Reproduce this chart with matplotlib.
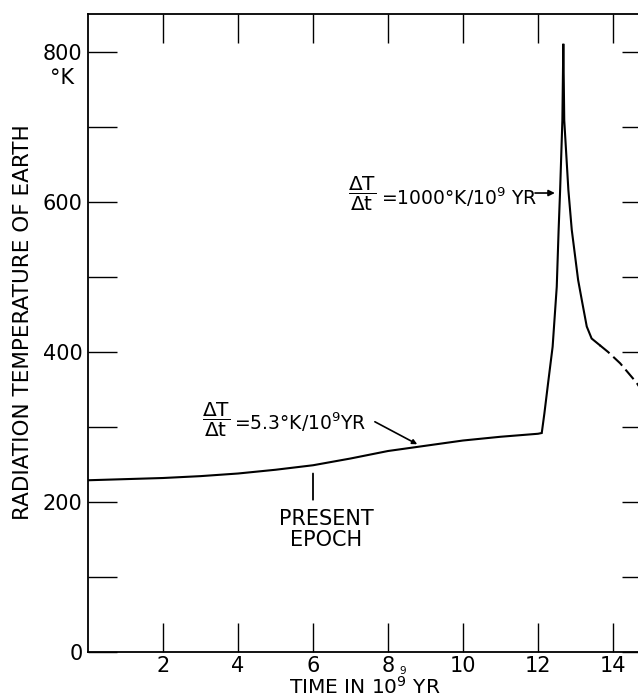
import matplotlib
matplotlib.use("Agg")
import matplotlib.pyplot as plt
from matplotlib.ticker import MultipleLocator, FixedLocator

plt.rcParams['font.family'] = ['DejaVu Sans']
plt.rcParams['mathtext.fontset'] = 'dejavusans'
plt.rcParams['mathtext.default'] = 'regular'

# ---- data ----
solid_time = [0, 1, 2, 3, 4, 5, 6, 7, 8, 9, 10, 11, 12, 12.10,
              12.17, 12.28, 12.39, 12.50, 12.55, 12.59, 12.65, 12.675,
              12.70, 12.81, 12.90, 13.07, 13.18, 13.30, 13.43, 13.65]
solid_temp = [229, 230.5, 232, 234.5, 238, 243, 249, 258, 268, 275, 282, 287, 291, 292,
              318, 363, 407, 487, 563, 616, 709, 811,
              709, 616, 563, 496, 466, 434, 418, 409]
dashed_time = [13.65, 13.87, 14.19, 14.63, 14.80]
dashed_temp = [409, 400, 385, 359, 346]

x_ticks = [2, 4, 6, 8, 10, 12, 14]
x_ticklabels = ['2', '4', '6', '8', '10', '12', '14']
y_ticks = [0, 200, 400, 600, 800]
y_ticklabels = ['0', '200', '400', '600', '800']

W, H = 638, 697
fig = plt.figure(figsize=(W / 100, H / 100), dpi=100)
x0, x1 = 88, 650.5
yb, yt = 652, 14
ax = fig.add_axes([x0 / W, 1 - yb / H, (x1 - x0) / W, (yb - yt) / H])

ax.plot(solid_time, solid_temp, color='black', lw=1.5, solid_joinstyle='miter')
ax.plot(dashed_time, dashed_temp, color='black', lw=1.5, dashes=(6, 2.5))

ax.set_xlim(0, 15)
ax.set_ylim(0, 850.7)

ax.xaxis.set_major_locator(FixedLocator(x_ticks))
ax.set_xticklabels(x_ticklabels)
ax.yaxis.set_major_locator(FixedLocator(y_ticks))
ax.set_yticklabels(y_ticklabels)
ax.yaxis.set_minor_locator(MultipleLocator(100))

ax.tick_params(which='both', direction='in', length=21, width=1.0,
               top=True, right=True, labelsize=15, colors='black')
ax.tick_params(axis='x', pad=3)
ax.tick_params(axis='y', pad=4)
for s in ax.spines.values():
    s.set_linewidth(1.3)

# axis labels
fig.text(23.5 / W, 1 - 322.5 / H, 'RADIATION TEMPERATURE OF EARTH',
         rotation=90, ha='center', va='center', fontsize=15.5)
fig.text(365 / W, 1 - 694 / H, 'TIME IN 10$^{9}$ YR', ha='center', va='baseline',
         fontsize=14.5)
fig.text(74 / W, 1 - 78 / H, '°K', ha='right', va='center', fontsize=15)
fig.text(403 / W, 1 - 671 / H, '9', ha='center', va='center', fontsize=7.5)

# annotation: 1000 K / 1e9 yr
ax.text(7.32, 611, r'$\dfrac{\Delta T}{\Delta t}$', ha='center', va='center', fontsize=14.5)
ax.text(7.82, 606, '=1000°K/10$^{9}$ YR', ha='left', va='center', fontsize=13.5)
ax.annotate('', xy=(12.45, 612), xytext=(11.92, 612),
            arrowprops=dict(arrowstyle='-|>', color='black', lw=1.2,
                            mutation_scale=9, shrinkA=0, shrinkB=0))

# annotation: 5.3 K / 1e9 yr
ax.text(3.41, 310, r'$\dfrac{\Delta T}{\Delta t}$', ha='center', va='center', fontsize=14.5)
ax.text(3.88, 306, '=5.3°K/10$^{9}$YR', ha='left', va='center', fontsize=13.5)
ax.annotate('', xy=(8.78, 277), xytext=(7.65, 307),
            arrowprops=dict(arrowstyle='-|>', color='black', lw=1.2,
                            mutation_scale=7, shrinkA=0, shrinkB=0))

# present epoch marker
ax.annotate('', xy=(6.0, 238), xytext=(6.0, 203),
            arrowprops=dict(arrowstyle='-', color='black', lw=1.3,
                            shrinkA=0, shrinkB=0))
ax.text(6.35, 177, 'PRESENT', ha='center', va='center', fontsize=15)
ax.text(6.35, 150, 'EPOCH', ha='center', va='center', fontsize=15)

fig.savefig('out.png', dpi=100)
